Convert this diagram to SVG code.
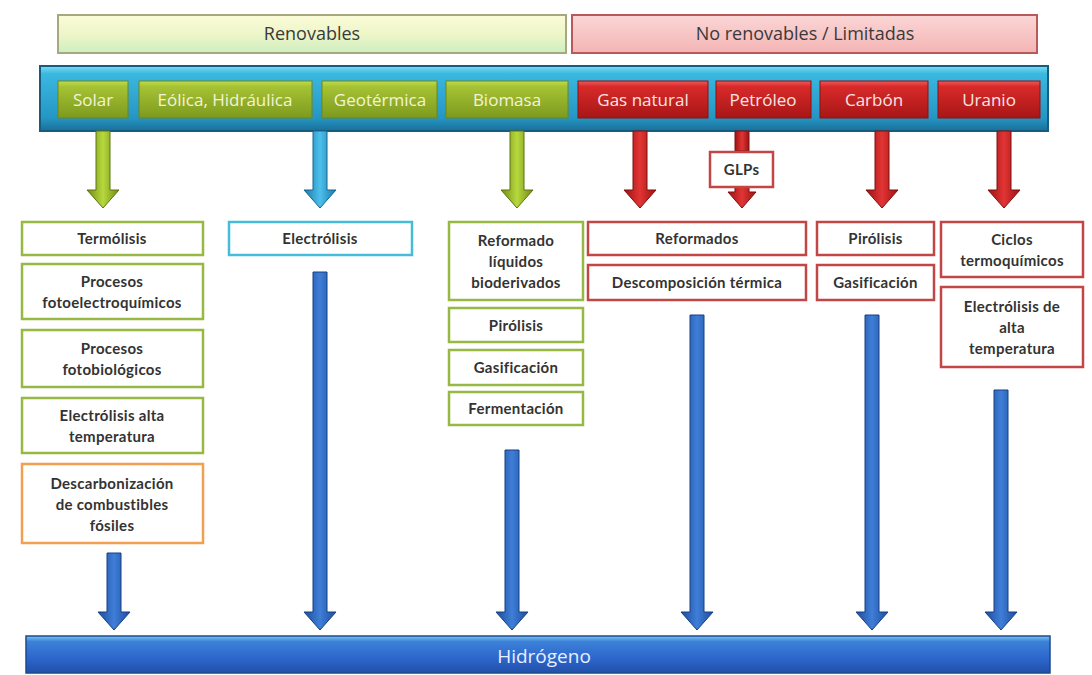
<svg xmlns="http://www.w3.org/2000/svg" width="1092" height="675" viewBox="0 0 1092 675">
<defs>
  <linearGradient id="gRen" x1="0" y1="0" x2="0" y2="1">
    <stop offset="0" stop-color="#fbfbd8"/><stop offset="0.5" stop-color="#eef6c8"/><stop offset="1" stop-color="#cdeec0"/>
  </linearGradient>
  <linearGradient id="gNon" x1="0" y1="0" x2="0" y2="1">
    <stop offset="0" stop-color="#fbd6d6"/><stop offset="1" stop-color="#f4b4b4"/>
  </linearGradient>
  <linearGradient id="gBand" x1="0" y1="0" x2="0" y2="1">
    <stop offset="0" stop-color="#7fdcf4"/><stop offset="0.12" stop-color="#3ab8e0"/><stop offset="0.8" stop-color="#2596c4"/><stop offset="1" stop-color="#1a6f98"/>
  </linearGradient>
  <linearGradient id="gGreenBtn" x1="0" y1="0" x2="0" y2="1">
    <stop offset="0" stop-color="#c2dc4c"/><stop offset="0.15" stop-color="#a6c234"/><stop offset="1" stop-color="#7d9a1e"/>
  </linearGradient>
  <linearGradient id="gRedBtn" x1="0" y1="0" x2="0" y2="1">
    <stop offset="0" stop-color="#ee5a5a"/><stop offset="0.15" stop-color="#d82a2a"/><stop offset="1" stop-color="#a81616"/>
  </linearGradient>
  <linearGradient id="gH2" x1="0" y1="0" x2="0" y2="1">
    <stop offset="0" stop-color="#7cc4ee"/><stop offset="0.15" stop-color="#3c82d8"/><stop offset="0.6" stop-color="#2d66cc"/><stop offset="1" stop-color="#2150a8"/>
  </linearGradient>
  <linearGradient id="aGreen" x1="0" y1="0" x2="1" y2="0">
    <stop offset="0" stop-color="#6f8c12"/><stop offset="0.5" stop-color="#b8d83e"/><stop offset="1" stop-color="#6f8c12"/>
  </linearGradient>
  <linearGradient id="aRed" x1="0" y1="0" x2="1" y2="0">
    <stop offset="0" stop-color="#9c1212"/><stop offset="0.5" stop-color="#e23434"/><stop offset="1" stop-color="#9c1212"/>
  </linearGradient>
  <linearGradient id="aCyan" x1="0" y1="0" x2="1" y2="0">
    <stop offset="0" stop-color="#1a78aa"/><stop offset="0.5" stop-color="#4cc0ea"/><stop offset="1" stop-color="#1a78aa"/>
  </linearGradient>
  <linearGradient id="aBlue" x1="0" y1="0" x2="1" y2="0">
    <stop offset="0" stop-color="#1d4c9c"/><stop offset="0.5" stop-color="#3f7ed8"/><stop offset="1" stop-color="#1d4c9c"/>
  </linearGradient>
</defs>
<style>
  .bar-ren { fill: url(#gRen); stroke: #a8a880; stroke-width: 2; }
  .bar-non { fill: url(#gNon); stroke: #b85a5a; stroke-width: 2; }
  .bartxt { font-family: "Open Sans", "Liberation Sans", sans-serif; font-size: 18px; fill: #3a3a3a; text-anchor: middle; }
  .btn-g { fill: url(#gGreenBtn); stroke: #6d8618; stroke-width: 1; }
  .btn-r { fill: url(#gRedBtn); stroke: #8e1010; stroke-width: 1; }
  .btntxt { font-family: "Open Sans", "Liberation Sans", sans-serif; font-size: 17px; text-anchor: middle; }
  .btntxt-g { fill: #f2f4d8; }
  .btntxt-r { fill: #fbe4e4; }
  .box { fill: #ffffff; stroke-width: 2.5; }
  .bg { stroke: #97b944; }
  .br { stroke: #c24646; }
  .bc { stroke: #45bcd8; }
  .bo { stroke: #f0a050; }
  .t { font-family: "Lato", "Liberation Sans", sans-serif; font-size: 15px; font-weight: bold; letter-spacing: 0.3px; fill: #333333; text-anchor: middle; }
  .ag { fill: url(#aGreen); stroke: #5c7410; stroke-width: 1; }
  .ar { fill: url(#aRed); stroke: #7e1010; stroke-width: 1; }
  .ac { fill: url(#aCyan); stroke: #17668f; stroke-width: 1; }
  .ab { fill: url(#aBlue); stroke: #173f82; stroke-width: 1; }
</style>
<rect width="1092" height="675" fill="#ffffff"/>

<g id="renovables">
  <rect class="bar-ren" x="58" y="15" width="508" height="38"/>
  <text class="bartxt" x="312" y="40">Renovables</text>
</g>
<g id="no-renovables">
  <rect class="bar-non" x="572" y="15" width="465" height="38"/>
  <text class="bartxt" x="805" y="40">No renovables / Limitadas</text>
</g>

<g id="fuentes">
  <rect x="40" y="66" width="1008" height="65" fill="url(#gBand)" stroke="#155d80" stroke-width="2"/>
</g>

<g id="solar"><rect class="btn-g" x="58" y="81" width="70" height="37"/><text class="btntxt btntxt-g" x="93" y="106">Solar</text></g>
<g id="eolica"><rect class="btn-g" x="139" y="81" width="173" height="37"/><text class="btntxt btntxt-g" x="225" y="106">Eólica, Hidráulica</text></g>
<g id="geotermica"><rect class="btn-g" x="322" y="81" width="115" height="37"/><text class="btntxt btntxt-g" x="380" y="106">Geotérmica</text></g>
<g id="biomasa"><rect class="btn-g" x="446" y="81" width="122" height="37"/><text class="btntxt btntxt-g" x="507" y="106">Biomasa</text></g>
<g id="gas-natural"><rect class="btn-r" x="578" y="81" width="130" height="37"/><text class="btntxt btntxt-r" x="643" y="106">Gas natural</text></g>
<g id="petroleo"><rect class="btn-r" x="716" y="81" width="95" height="37"/><text class="btntxt btntxt-r" x="763" y="106">Petróleo</text></g>
<g id="carbon"><rect class="btn-r" x="820" y="81" width="108" height="37"/><text class="btntxt btntxt-r" x="874" y="106">Carbón</text></g>
<g id="uranio"><rect class="btn-r" x="938" y="81" width="102" height="37"/><text class="btntxt btntxt-r" x="989" y="106">Uranio</text></g>

<g id="connectors">
  <!-- source arrows -->
  <path class="ag" d="M96,131 H110 V190 H119 L103,208 L87,190 H96 Z"/>
  <path class="ac" d="M313,131 H327 V190 H336 L320,208 L304,190 H313 Z"/>
  <path class="ag" d="M510,131 H524 V190 H533 L517,208 L501,190 H510 Z"/>
  <path class="ar" d="M633,131 H647 V190 H656 L640,208 L624,190 H633 Z"/>
  <path class="ar" d="M735,131 H749 V151 H735 Z"/>
  <path class="ar" d="M735,187 H749 V192 H756 L742,208 L728,192 H735 Z"/>
  <path class="ar" d="M875,131 H889 V190 H898 L882,208 L866,190 H875 Z"/>
  <path class="ar" d="M997,131 H1011 V190 H1020 L1004,208 L988,190 H997 Z"/>
  <!-- hydrogen arrows -->
  <path class="ab" d="M107,553 H121 V612 H130 L114,630 L98,612 H107 Z"/>
  <path class="ab" d="M313,272 H327 V612 H336 L320,630 L304,612 H313 Z"/>
  <path class="ab" d="M505,450 H519 V612 H528 L512,630 L496,612 H505 Z"/>
  <path class="ab" d="M690,315 H704 V612 H713 L697,630 L681,612 H690 Z"/>
  <path class="ab" d="M865,315 H879 V612 H888 L872,630 L856,612 H865 Z"/>
  <path class="ab" d="M994,390 H1008 V612 H1017 L1001,630 L985,612 H994 Z"/>
</g>

<g id="glps"><rect class="box br" x="710" y="152" width="63" height="35"/><text class="t" x="741.5" y="175">GLPs</text></g>

<g id="termolisis"><rect class="box bg" x="22" y="222" width="181" height="33"/><text class="t" x="112" y="244">Termólisis</text></g>
<g id="fotoelectroquimicos"><rect class="box bg" x="22" y="264" width="181" height="55"/><text class="t" x="112" y="287">Procesos</text><text class="t" x="112" y="308">fotoelectroquímicos</text></g>
<g id="fotobiologicos"><rect class="box bg" x="22" y="330" width="181" height="57"/><text class="t" x="112" y="354">Procesos</text><text class="t" x="112" y="375">fotobiológicos</text></g>
<g id="electrolisis-alta-t"><rect class="box bg" x="22" y="398" width="181" height="55"/><text class="t" x="112" y="421">Electrólisis alta</text><text class="t" x="112" y="442">temperatura</text></g>
<g id="descarbonizacion"><rect class="box bo" x="22" y="464" width="181" height="79"/><text class="t" x="112" y="489">Descarbonización</text><text class="t" x="112" y="510">de combustibles</text><text class="t" x="112" y="531">fósiles</text></g>

<g id="electrolisis"><rect class="box bc" x="229" y="222" width="183" height="33"/><text class="t" x="320" y="244">Electrólisis</text></g>

<g id="reformado-liquidos"><rect class="box bg" x="449" y="222" width="134" height="78"/><text class="t" x="516" y="246">Reformado</text><text class="t" x="516" y="267">líquidos</text><text class="t" x="516" y="288">bioderivados</text></g>
<g id="pirolisis-bio"><rect class="box bg" x="449" y="308" width="134" height="34"/><text class="t" x="516" y="331">Pirólisis</text></g>
<g id="gasificacion-bio"><rect class="box bg" x="449" y="350" width="134" height="35"/><text class="t" x="516" y="373">Gasificación</text></g>
<g id="fermentacion"><rect class="box bg" x="449" y="392" width="134" height="33"/><text class="t" x="516" y="414">Fermentación</text></g>

<g id="reformados"><rect class="box br" x="588" y="222" width="218" height="33"/><text class="t" x="697" y="244">Reformados</text></g>
<g id="descomposicion"><rect class="box br" x="588" y="265" width="218" height="35"/><text class="t" x="697" y="288">Descomposición térmica</text></g>

<g id="pirolisis-carbon"><rect class="box br" x="817" y="222" width="117" height="33"/><text class="t" x="875.5" y="244">Pirólisis</text></g>
<g id="gasificacion-carbon"><rect class="box br" x="817" y="265" width="117" height="35"/><text class="t" x="875.5" y="288">Gasificación</text></g>

<g id="ciclos"><rect class="box br" x="941" y="222" width="142" height="55"/><text class="t" x="1012" y="245">Ciclos</text><text class="t" x="1012" y="266">termoquímicos</text></g>
<g id="electrolisis-alta-t-u"><rect class="box br" x="941" y="287" width="142" height="80"/><text class="t" x="1012" y="312">Electrólisis de</text><text class="t" x="1012" y="333">alta</text><text class="t" x="1012" y="354">temperatura</text></g>

<g id="hidrogeno">
  <rect x="26" y="636" width="1024" height="37" fill="url(#gH2)" stroke="#1d4a8e" stroke-width="1.5"/>
  <text x="544" y="663" font-family="Open Sans, Liberation Sans, sans-serif" font-size="19" fill="#e8f0ff" text-anchor="middle">Hidrógeno</text>
</g>
</svg>
